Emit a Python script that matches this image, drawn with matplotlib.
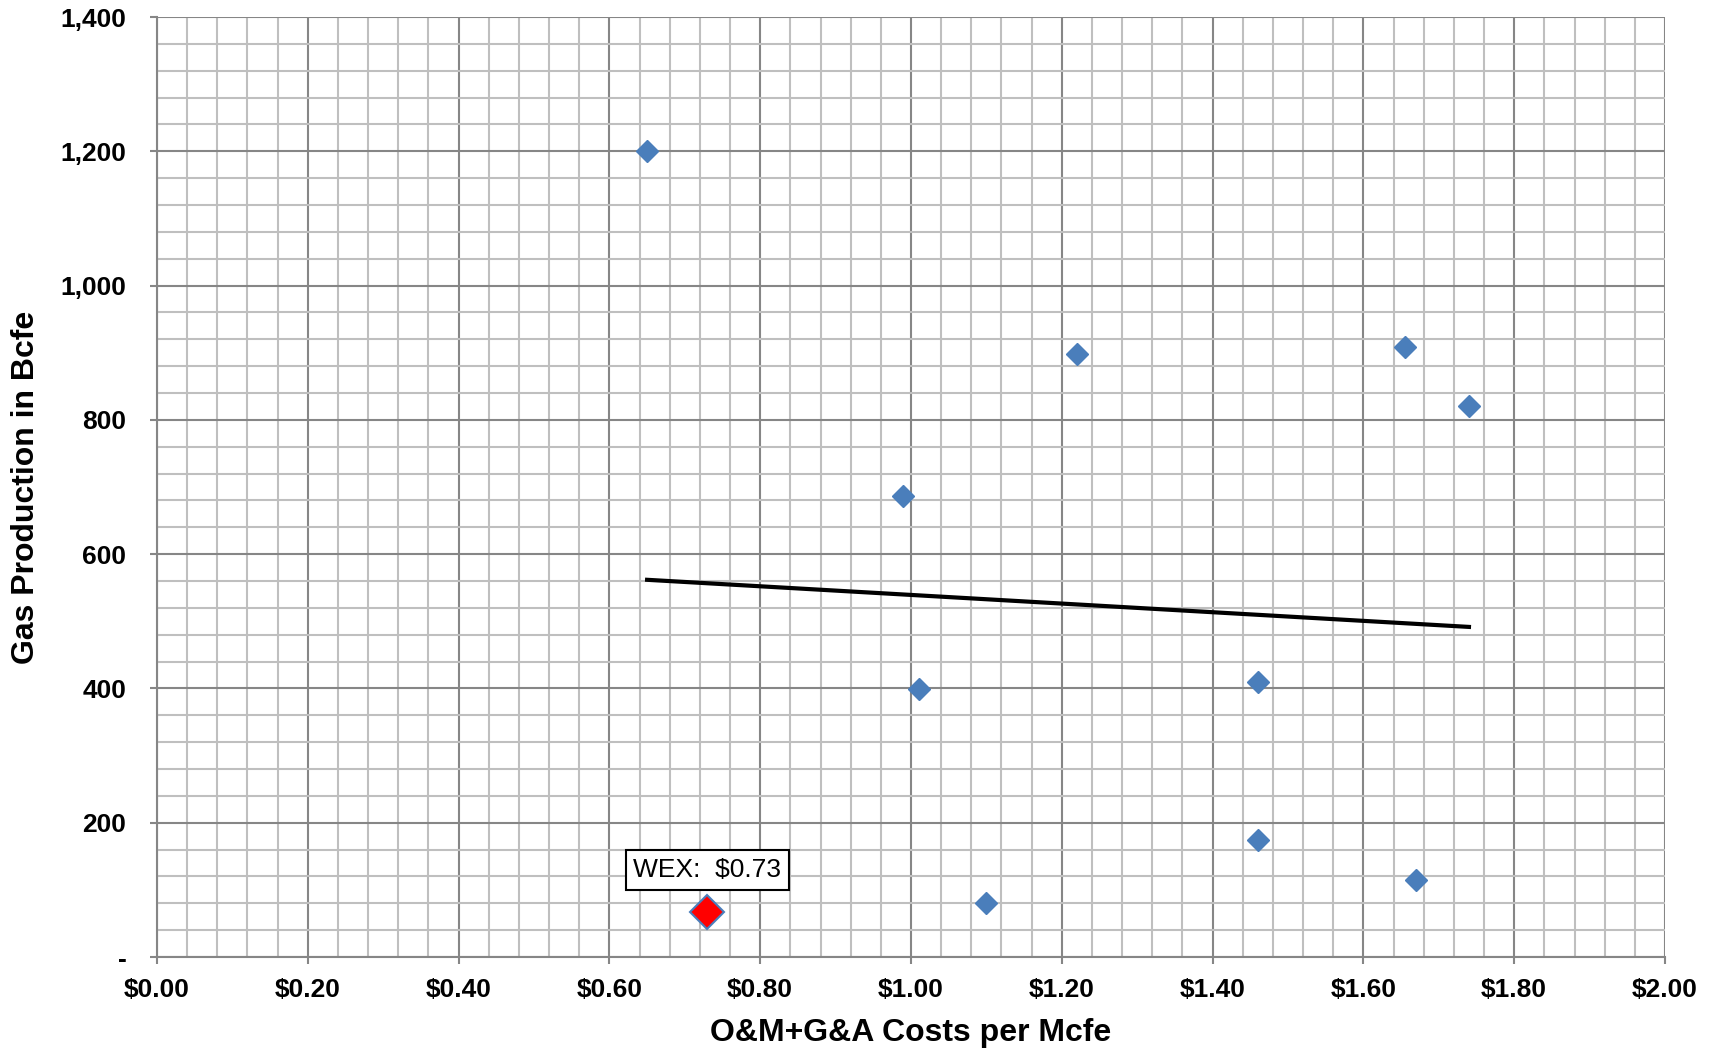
import matplotlib
matplotlib.use('Agg')
import matplotlib.pyplot as plt
import matplotlib.ticker as mticker
import numpy as np

plt.rcParams['font.family'] = ['Liberation Sans', 'DejaVu Sans']

# Kostnad per Mcfe og produksjon (Bcfe) for selskapene
peer_cost = [0.65, 1.22, 1.655, 1.74, 0.99, 1.01, 1.46, 1.46, 1.67, 1.10]
peer_prod = [1200, 898, 909, 821, 687, 399, 409, 175, 114, 80]

wex_cost = 0.73
wex_prod = 67
wex_label = 'WEX:  $0.73'

x_ticks = [0.0, 0.2, 0.4, 0.6, 0.8, 1.0, 1.2, 1.4, 1.6, 1.8, 2.0]
y_ticks = [0, 200, 400, 600, 800, 1000, 1200, 1400]

# Trendlinje over alle punkter (inkl. WEX)
all_x = np.array(peer_cost + [wex_cost])
all_y = np.array(peer_prod + [wex_prod])
slope, intercept = np.polyfit(all_x, all_y, 1)
trend_x = np.array([all_x.min(), all_x.max()])
trend_y = slope * trend_x + intercept

fig = plt.figure(figsize=(17.2, 10.5), dpi=100)
ax = fig.add_axes([157 / 1720, 1 - 957 / 1050, (1665 - 157) / 1720, (957 - 17) / 1050])

major_col = '#868686'
minor_col = '#bfbfbf'

ax.set_xlim(0, 2.0)
ax.set_ylim(0, 1400)
ax.xaxis.set_major_locator(mticker.FixedLocator(x_ticks))
ax.yaxis.set_major_locator(mticker.FixedLocator(y_ticks))
ax.xaxis.set_minor_locator(mticker.MultipleLocator(0.04))
ax.yaxis.set_minor_locator(mticker.MultipleLocator(40))
ax.grid(which='minor', color=minor_col, linewidth=1.5, zorder=0)
ax.grid(which='major', color=major_col, linewidth=1.5, zorder=0)
ax.set_axisbelow(True)

for s in ax.spines.values():
    s.set_visible(False)
ax.spines['left'].set_visible(True)
ax.spines['bottom'].set_visible(True)
ax.spines['left'].set_color(major_col)
ax.spines['bottom'].set_color(major_col)
ax.spines['left'].set_linewidth(1.5)
ax.spines['bottom'].set_linewidth(1.5)

ax.xaxis.set_major_formatter(mticker.FuncFormatter(lambda v, p: f'${v:.2f}'))
ax.yaxis.set_major_formatter(mticker.FuncFormatter(lambda v, p: '-' if v == 0 else f'{int(v):,}'))
ax.tick_params(which='major', length=5, width=1.5, color=major_col, labelsize=19)
ax.tick_params(axis='x', pad=10)
ax.tick_params(axis='y', pad=17)
ax.tick_params(which='minor', length=0)
for lab in ax.get_xticklabels() + ax.get_yticklabels():
    lab.set_fontweight('bold')

ax.plot(trend_x, trend_y, color='black', linewidth=3, zorder=3)
ax.plot(peer_cost, peer_prod, linestyle='none', marker='D', markersize=11,
        color='#4a7ebb', markeredgecolor='#4a7ebb', zorder=4)
ax.plot([wex_cost], [wex_prod], linestyle='none', marker='D', markersize=17,
        color='red', markeredgecolor='#4a7ebb', markeredgewidth=1.5, zorder=5)

ax.annotate(wex_label, xy=(wex_cost, wex_prod), xytext=(0, 30), textcoords='offset points',
            ha='center', va='center', fontsize=19,
            bbox=dict(boxstyle='square,pad=0.3', facecolor='white', edgecolor='black', linewidth=1.5),
            zorder=6)

ax.set_xlabel('O&M+G&A Costs per Mcfe', fontsize=23, fontweight='bold', labelpad=12)
ax.set_ylabel('Gas Production in Bcfe', fontsize=23, fontweight='bold', labelpad=14)

fig.savefig('out.png', dpi=100)
